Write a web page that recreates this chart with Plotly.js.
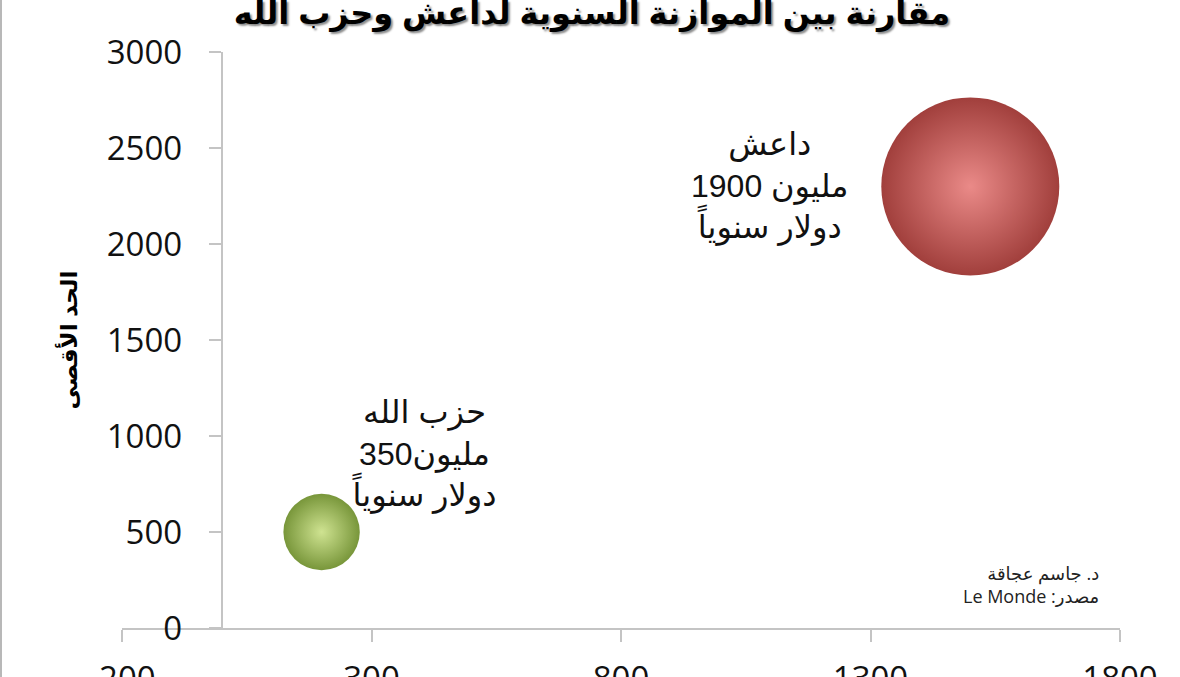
<!DOCTYPE html>
<html>
<head>
<meta charset="utf-8">
<script src="https://cdn.plot.ly/plotly-3.0.1.min.js"></script>
<style>
  html, body { margin: 0; padding: 0; background: #fff; }
  #chart { width: 1180px; height: 677px; box-sizing: border-box;
           border-left: 2px solid #b8b8b8; border-right: 2px solid #b8b8b8; }
</style>
</head>
<body>
<div id="chart"></div>
<script>
// Annual budget comparison: Daesh vs Hezbollah (bubble = budget, million USD/yr)
const groups   = ["حزب الله", "داعش"];
const xVals    = [200, 1500];
const yVals    = [500, 2300];
const budgets  = [350, 1900];
const labels   = ["حزب الله<br>350مليون<br>دولار سنوياً", "داعش<br>1900 مليون<br>دولار سنوياً"];
const xTicks   = [-200, 300, 800, 1300, 1800];
const yTicks   = [0, 500, 1000, 1500, 2000, 2500, 3000];

const edgeColors   = ["#78963a", "#a13f3c"];
const centerColors = ["#cfe391", "#ea8a88"];

const ARABIC = "Liberation Sans, DejaVu Sans, sans-serif";
const AXIS_GREY = "#c4c4c4";

const trace = {
  type: "scatter", mode: "markers",
  x: xVals, y: yVals, text: groups,
  hoverinfo: "text",
  marker: {
    size: budgets, sizemode: "area", sizeref: 2 * 1900 / (178 * 178),
    color: edgeColors, opacity: 1,
    line: { width: 0 },
    gradient: { type: "radial", color: centerColors },
  },
  showlegend: false,
};

// label offsets (px) relative to each bubble
const labelShift = [{ x: 103, y: 78 }, { x: -200, y: 0 }];

const layout = {
  width: 1180, height: 677,
  margin: { l: 120, r: 62, t: 52, b: 49 },
  paper_bgcolor: "#fff", plot_bgcolor: "#fff",
  font: { family: "Open Sans, sans-serif", color: "#111" },
  title: {
    text: "مقارنة بين الموازنة السنوية لداعش وحزب الله",
    xref: "container", x: 0.5, yref: "container", y: 1 - 13 / 677, yanchor: "middle",
    font: { family: ARABIC, size: 32, weight: "bold", color: "#000", shadow: "2px 2px 2px rgba(0,0,0,0.45)" },
  },
  xaxis: {
    range: [-200, 1800], tickvals: xTicks, ticktext: xTicks.map(String),
    showgrid: false, zeroline: false,
    showline: true, linecolor: AXIS_GREY, linewidth: 2,
    ticks: "outside", ticklen: 12, tickwidth: 2, tickcolor: AXIS_GREY,
    tickfont: { size: 33, color: "#111" }, ticklabelstandoff: 8,
  },
  yaxis: {
    range: [0, 3000], tickvals: yTicks,
    anchor: "free", position: 0.1,
    showgrid: false, zeroline: false,
    showline: true, linecolor: AXIS_GREY, linewidth: 2,
    ticks: "outside", ticklen: 12, tickwidth: 2, tickcolor: AXIS_GREY,
    tickfont: { size: 33, color: "#111" }, ticklabelstandoff: 20,
    title: { text: "الحد الأقصى", font: { family: ARABIC, size: 23, weight: "bold", color: "#000" }, standoff: 22 },
  },
  annotations: labels.map((t, i) => ({
    text: t, x: xVals[i], y: yVals[i], xref: "x", yref: "y",
    xshift: labelShift[i].x, yshift: labelShift[i].y,
    showarrow: false, align: "center", xanchor: "center", yanchor: "middle",
    font: { family: ARABIC, size: 32, color: "#111" },
  })).concat([{
    text: "د. جاسم عجاقة<br>Le Monde :مصدر",
    xref: "paper", yref: "paper", x: 0.981, y: 0.076,
    xanchor: "right", yanchor: "middle", align: "right", showarrow: false,
    font: { family: "Open Sans, DejaVu Sans, sans-serif", size: 18, color: "#222" },
  }]),
};

Plotly.newPlot("chart", [trace], layout, { displayModeBar: false, staticPlot: true });
</script>
</body>
</html>
